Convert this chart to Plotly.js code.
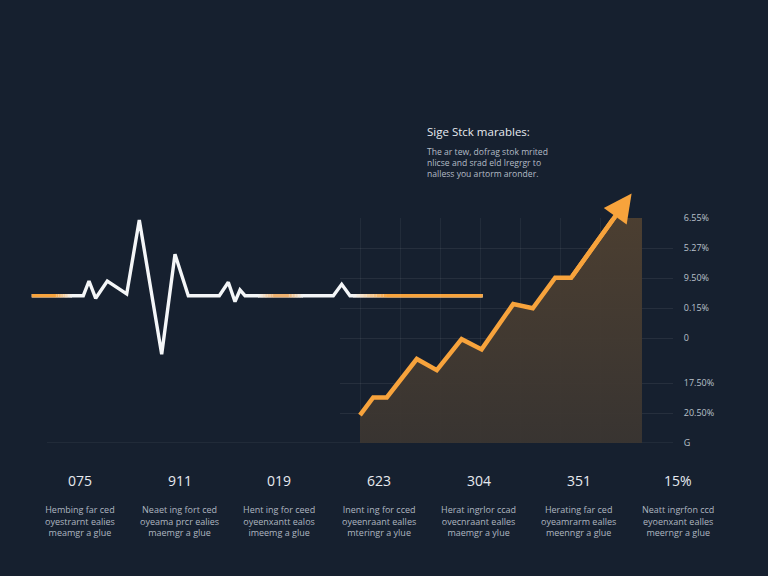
<!DOCTYPE html>
<html>
<head>
<meta charset="utf-8">
<script src="https://cdn.plot.ly/plotly-3.0.1.min.js"></script>
<style>
  html, body { margin: 0; padding: 0; background: #16202f; }
  #chart { width: 768px; height: 576px; }
</style>
</head>
<body>
<div id="chart"></div>
<script>
// Heartbeat line (x along the canvas, y relative to its flat baseline)
const pulseX = [3.17, 8.33, 8.9, 9.57, 10.73, 12.67, 13.93, 16.17, 17.5, 18.83, 21.93, 22.83, 23.5, 24.0, 24.5, 33.33, 34.17, 35.0, 48.27];
const pulseY = [0, 0, 1.47, -0.26, 1.47, 0.17, 7.57, -5.86, 4.14, 0, 0, 1.34, -0.6, 0.57, 0, 0, 1.14, 0, 0];

// Rising stock trend, ending in the arrow tip
const trendX = [0, 0.33, 0.67, 1.42, 1.92, 2.54, 3.04, 3.83, 4.32, 4.88, 5.28, 6.79];
const trendY = [0.93, 1.52, 1.52, 2.8, 2.43, 3.46, 3.12, 4.63, 4.49, 5.51, 5.51, 8.32];

// Right-hand axis
const tickVals = [0, 1, 2, 3.5, 4.5, 5.5, 6.5, 7.5];
const tickLabels = ['G', '20.50%', '17.50%', '0', '0.15%', '9.50%', '5.27%', '6.55%'];

// Summary row
const statValues = ['075', '911', '019', '623', '304', '351', '15%'];
const statNotes = [
  ['Hembing far ced', 'oyestrarnt ealies', 'meamgr a glue'],
  ['Neaet ing fort ced', 'oyeama prcr ealies', 'maemgr a glue'],
  ['Hent ing for ceed', 'oyeenxantt ealos', 'imeemg a glue'],
  ['Inent ing for cced', 'oyeenraant ealles', 'mteringr a ylue'],
  ['Herat ingrlor ccad', 'ovecnraant ealles', 'maemgr a ylue'],
  ['Herating far ced', 'oyeamrarm ealles', 'meenngr a glue'],
  ['Neatt ingrfon ccd', 'eyoenxant ealles', 'meerngr a glue']
];

const headline = 'Sige Stck marables:';
const blurb = ['The ar tew, dofrag stok mrited', 'nlicse and srad eld lregrgr to', 'nalless you artorm aronder.'];

const ORANGE = '#f7a33c';
const W = 768, H = 576;
const px = v => v / W;
const py = v => (H - v) / H;

const traces = [];

// shaded area under the trend, squared off at the top right
const areaTop = 7.5, areaRight = 7.05;
const n = trendX.length;
const t = (areaTop - trendY[n - 2]) / (trendY[n - 1] - trendY[n - 2]);
const cornerX = trendX[n - 2] + t * (trendX[n - 1] - trendX[n - 2]);
traces.push({
  x: trendX.slice(0, -1).concat([cornerX, areaRight]),
  y: trendY.slice(0, -1).concat([areaTop, areaTop]),
  xaxis: 'x2', yaxis: 'y2',
  mode: 'lines', line: { width: 0 },
  fill: 'tozeroy',
  fillcolor: 'rgba(70,60,50,0.9)',
  fillgradient: {
    type: 'vertical', start: 0, stop: areaTop,
    colorscale: [[0, 'rgba(58,53,49,0.95)'], [1, 'rgba(78,64,49,0.95)']]
  },
  hoverinfo: 'skip', showlegend: false
});

// trend line
traces.push({
  x: trendX, y: trendY, xaxis: 'x2', yaxis: 'y2',
  mode: 'lines', line: { color: ORANGE, width: 4.5 },
  cliponaxis: false, hoverinfo: 'skip', showlegend: false
});

// heartbeat line in white
traces.push({
  x: pulseX, y: pulseY, mode: 'lines',
  line: { color: '#f4f6f8', width: 3.4 },
  hoverinfo: 'skip', showlegend: false
});

// warm tints along the flat baseline, blended in small steps
const WH = [244, 246, 248], OR = [247, 163, 60], PE = [238, 176, 110];
const tintGroups = [
  [[3.17, OR], [5.5, OR], [7.2, WH]],
  [[25.8, WH], [27.4, PE], [28.8, PE], [30.3, WH]],
  [[35.3, WH], [38.7, OR], [48.27, OR]]
];
const rgb = c => `rgb(${c.map(Math.round).join(',')})`;
tintGroups.forEach(stops => {
  for (let i = 0; i < stops.length - 1; i++) {
    const [xa, ca] = stops[i], [xb, cb] = stops[i + 1];
    const same = ca.every((v, k) => v === cb[k]);
    const steps = same ? 1 : 10;
    for (let s = 0; s < steps; s++) {
      const f0 = s / steps, f1 = (s + 1) / steps, fm = (f0 + f1) / 2;
      const col = ca.map((v, k) => v + (cb[k] - v) * fm);
      traces.push({
        x: [xa + (xb - xa) * f0, xa + (xb - xa) * f1], y: [0, 0],
        mode: 'lines', line: { color: rgb(col), width: 3.4 },
        hoverinfo: 'skip', showlegend: false
      });
    }
  }
});

const annotations = [];

// arrow head on the final trend segment
annotations.push({
  xref: 'x2', yref: 'y2', axref: 'x2', ayref: 'y2',
  x: trendX[n - 1], y: trendY[n - 1],
  ax: trendX[n - 2], ay: trendY[n - 2],
  text: '', showarrow: true, arrowhead: 2, arrowsize: 1.25,
  arrowwidth: 4.5, arrowcolor: ORANGE, standoff: 0
});

// headline and blurb
annotations.push({
  xref: 'paper', yref: 'paper', x: px(425), y: py(131),
  xanchor: 'left', yanchor: 'middle', showarrow: false,
  text: headline, font: { family: 'Open Sans', size: 11.5, color: '#e6eaef' }
});
annotations.push({
  xref: 'paper', yref: 'paper', x: px(425), y: py(144),
  xanchor: 'left', yanchor: 'top', align: 'left', showarrow: false,
  text: blurb.join('<br>'), font: { family: 'Open Sans', size: 8.6, color: '#b4bcc6' }
});

// summary row
statValues.forEach((v, i) => {
  const cx = 80 + i * 99.7;
  annotations.push({
    xref: 'paper', yref: 'paper', x: px(cx), y: py(480),
    xanchor: 'center', yanchor: 'middle', showarrow: false,
    text: v, font: { family: 'Open Sans', size: 14, color: '#e6eaef' }
  });
  annotations.push({
    xref: 'paper', yref: 'paper', x: px(cx), y: py(501),
    xanchor: 'center', yanchor: 'top', align: 'center', showarrow: false,
    text: statNotes[i].join('<br>'), font: { family: 'Open Sans', size: 9, color: '#aeb6c0' }
  });
});

const layout = {
  width: W, height: H,
  margin: { l: 0, r: 0, t: 0, b: 0 },
  paper_bgcolor: '#16202f', plot_bgcolor: 'rgba(0,0,0,0)',
  showlegend: false,
  xaxis: { domain: [0, 1], range: [0, 76.8], visible: false, fixedrange: true },
  yaxis: { domain: [0, 1], range: [-28.03, 29.57], visible: false, fixedrange: true },
  xaxis2: {
    domain: [px(340), px(673)], range: [-0.5, 7.825], anchor: 'y2',
    tickvals: [0, 1, 2, 3, 4, 5, 6, 7], showticklabels: false, ticks: '',
    showgrid: true, gridcolor: 'rgba(255,255,255,0.055)', gridwidth: 1,
    zeroline: false, showline: false, fixedrange: true
  },
  yaxis2: {
    domain: [py(443), py(218)], range: [0, 7.5], anchor: 'x2', side: 'right',
    tickvals: tickVals, ticktext: tickLabels,
    ticks: 'outside', ticklen: 8, tickcolor: 'rgba(0,0,0,0)',
    tickfont: { family: 'Open Sans', size: 9, color: '#b9c1cb' },
    showgrid: true, gridcolor: 'rgba(255,255,255,0.07)', gridwidth: 1,
    zeroline: false, showline: false, fixedrange: true
  },
  shapes: [{
    type: 'line', xref: 'paper', yref: 'y2',
    x0: px(47), x1: px(673), y0: 0, y1: 0,
    line: { color: 'rgba(255,255,255,0.1)', width: 1 }, layer: 'below'
  }],
  annotations: annotations
};

Plotly.newPlot('chart', traces, layout, { staticPlot: true, displayModeBar: false });
</script>
</body>
</html>
